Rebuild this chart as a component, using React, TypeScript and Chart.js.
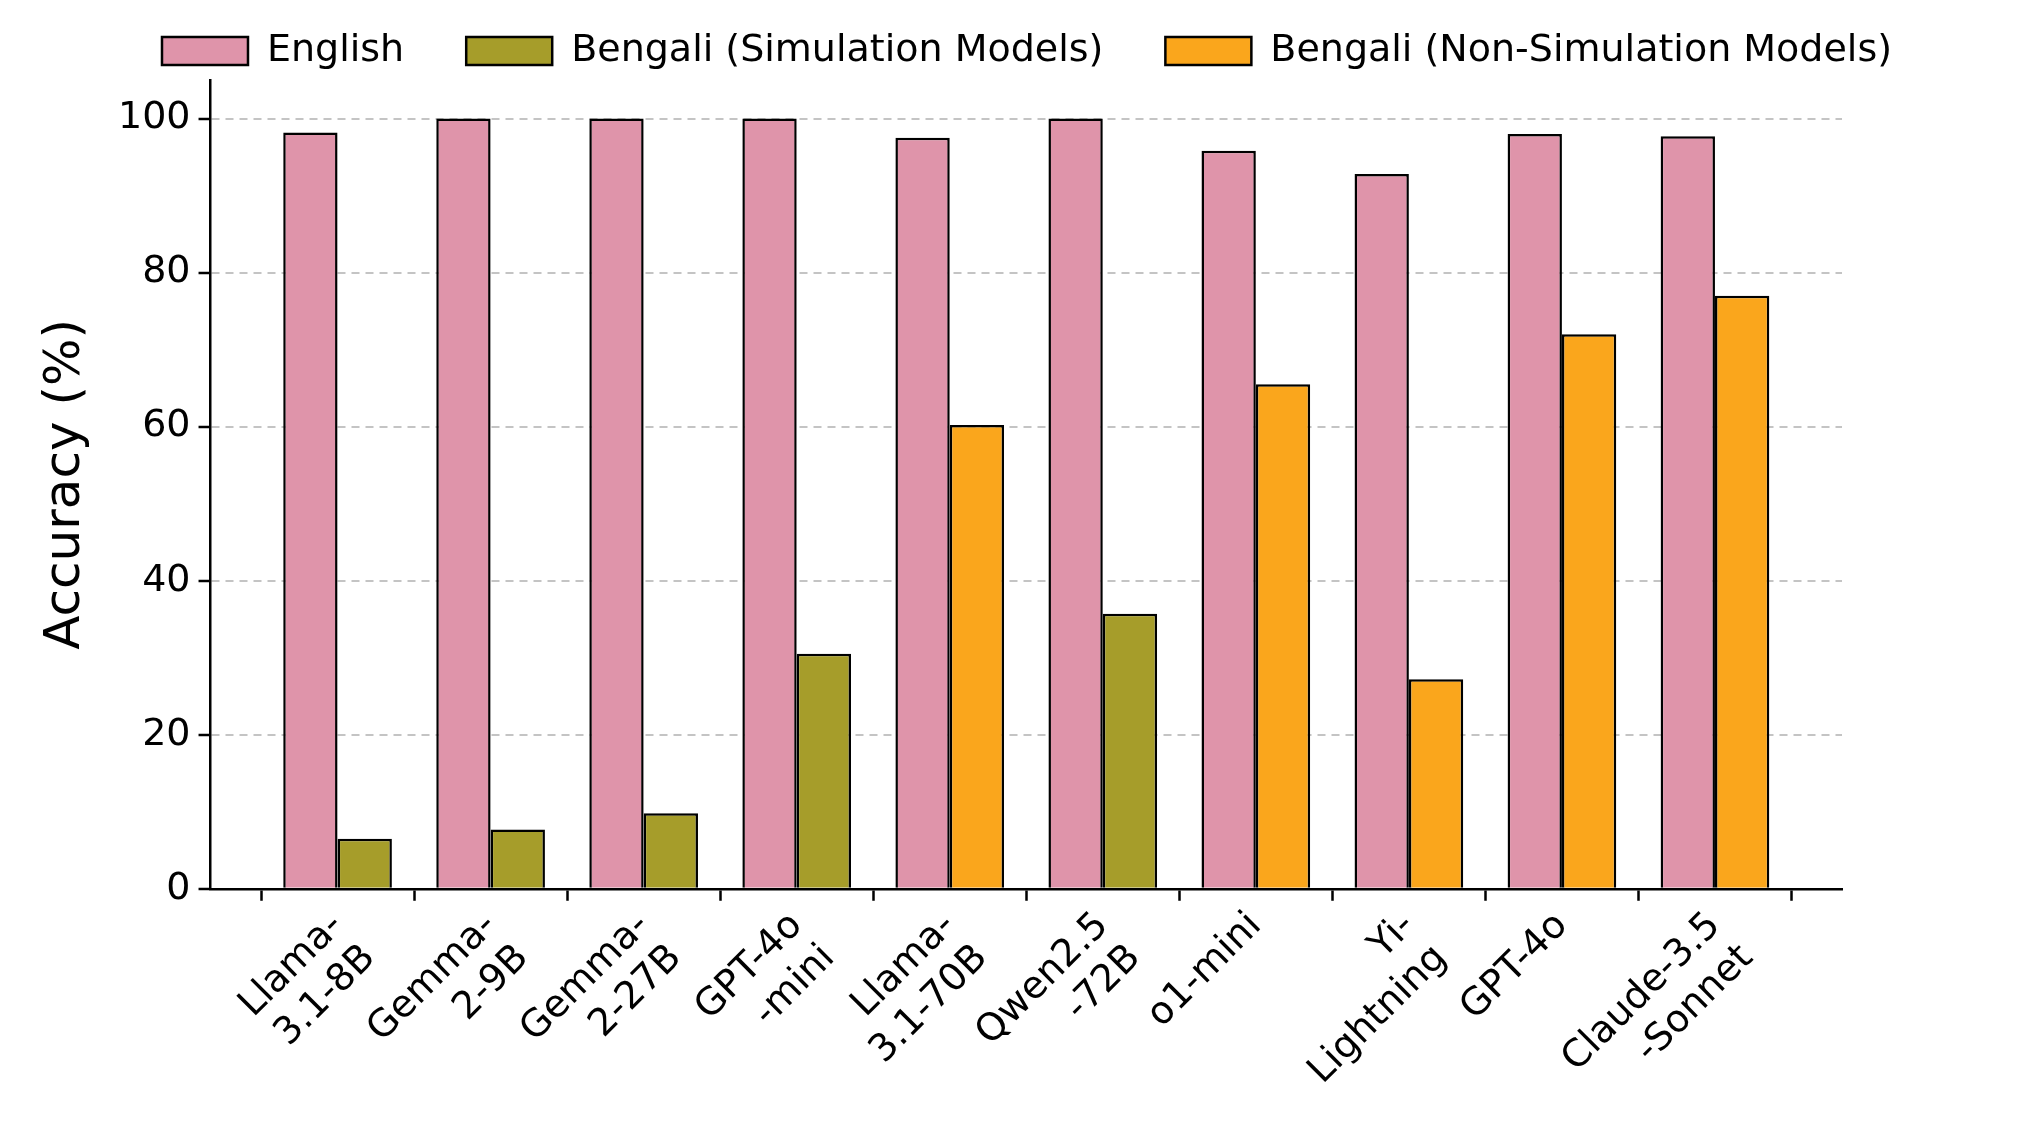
import React, { useEffect, useRef } from "react";
import { Chart, registerables } from "chart.js";
Chart.register(...registerables);

const categories: string[][] = [
  ["Llama-", "3.1-8B"], ["Gemma-", "2-9B"], ["Gemma-", "2-27B"], ["GPT-4o", "-mini"],
  ["Llama-", "3.1-70B"], ["Qwen2.5", "-72B"], ["o1-mini"], ["Yi-", "Lightning"],
  ["GPT-4o"], ["Claude-3.5", "-Sonnet"],
];
const english = [98.2, 100, 100, 100, 97.5, 100, 95.8, 92.8, 98, 97.7];
const bengaliSim: (number | null)[] = [6.5, 7.7, 9.8, 30.5, null, 35.7, null, null, null, null];
const bengaliNonSim: (number | null)[] = [null, null, null, null, 60.2, null, 65.5, 27.2, 72, 77];
const yTicks = [0, 20, 40, 60, 80, 100];

const toPts = (arr: (number | null)[]) => arr.map((y, i) => ({ x: i, y }));

export default function App() {
  const ref = useRef<HTMLCanvasElement>(null);
  useEffect(() => {
    document.body.style.margin = "0";
    const font = "'DejaVu Sans', sans-serif";
    const common = { borderColor: "#000", borderWidth: 2.5, barPercentage: 1, categoryPercentage: 0.71 };
    const chart = new Chart(ref.current!, {
      type: "bar",
      data: {
        datasets: [
          { label: "English", data: toPts(english) as any, backgroundColor: "#DF94AA", stack: "a", ...common },
          { label: "Bengali (Simulation Models)", data: toPts(bengaliSim) as any, backgroundColor: "#A69D2A", stack: "b", ...common },
          { label: "Bengali (Non-Simulation Models)", data: toPts(bengaliNonSim) as any, backgroundColor: "#FAA61C", stack: "b", ...common },
        ],
      },
      options: {
        animation: false,
        responsive: false,
        layout: { padding: { left: 22, right: 0, top: -30, bottom: 8 } },
        plugins: {
          tooltip: { enabled: false },
          legend: {
            position: "top",
            labels: { font: { family: font, size: 38 }, color: "#000", boxWidth: 86, boxHeight: 28, padding: 62 },
          },
        },
        scales: {
          x: {
            type: "linear",
            stacked: true,
            offset: false,
            min: -0.83,
            max: 9.83,
            afterBuildTicks: (s: any) => { s.ticks = categories.map((_, i) => ({ value: i })); },
            grid: { drawOnChartArea: false, drawTicks: true, tickLength: 12, tickColor: "#000", tickWidth: 2.5 },
            border: { color: "#000", width: 2.5 },
            ticks: {
              autoSkip: false,
              maxRotation: 45,
              minRotation: 45,
              color: "#000",
              font: { family: font, size: 38 },
              callback: (v: any) => (Number.isInteger(v) && v >= 0 && v < categories.length ? categories[v] : ""),
            },
          },
          y: {
            stacked: false,
            min: 0,
            max: 105,
            afterBuildTicks: (s: any) => { s.ticks = yTicks.map((v) => ({ value: v })); },
            grid: { color: "#c4c4c4", lineWidth: 2, tickColor: "#000", tickLength: 12, tickWidth: 2.5 },
            border: { color: "#000", width: 2.5, dash: [8, 6] },
            ticks: { color: "#000", font: { family: font, size: 38 }, padding: 8 },
            title: { display: true, text: "Accuracy (%)", color: "#000", font: { family: font, size: 50 }, padding: 14 },
          },
          y2: {
            position: "right",
            min: 0,
            max: 105,
            grid: { display: false },
            border: { display: false },
            ticks: { display: false },
            afterFit: (s: any) => { s.width = 190; },
          },
        },
      },
    });
    return () => chart.destroy();
  }, []);
  return (
    <div style={{ width: 2032, height: 1125 }}>
      <canvas ref={ref} width={2032} height={1125} style={{ width: 2032, height: 1125 }} />
    </div>
  );
}
